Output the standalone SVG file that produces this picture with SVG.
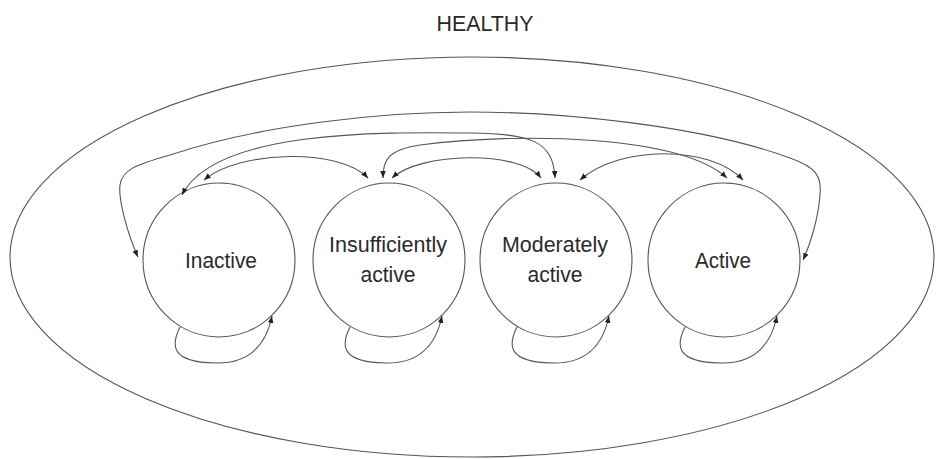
<svg xmlns="http://www.w3.org/2000/svg" width="941" height="459" viewBox="0 0 941 459">
<style>
.ln{fill:none;stroke:#555;stroke-width:1.1}
.nd{fill:#fff;stroke:#555;stroke-width:1.1}
.lb{font-family:"Liberation Sans",Arial,sans-serif;font-size:22px;fill:#2a2a2a;text-anchor:middle}
</style>
<defs>
<marker id="ah" viewBox="0 0 10 10" refX="10" refY="5" markerWidth="7" markerHeight="7" markerUnits="userSpaceOnUse" orient="auto-start-reverse">
<path d="M0,1 L10,5 L0,9 z" fill="#222"/>
</marker>
</defs>
<rect width="941" height="459" fill="#fff"/>
<text class="lb" x="485" y="31" font-size="24" textLength="97" lengthAdjust="spacingAndGlyphs">HEALTHY</text>
<g id="outer"><ellipse cx="472" cy="257" rx="462" ry="200" class="ln"/></g>
<g id="inactive"><ellipse class="nd" cx="219" cy="260" rx="76" ry="77"/><text class="lb" x="221" y="268" textLength="72" lengthAdjust="spacingAndGlyphs">Inactive</text></g>
<g id="insufficiently"><ellipse class="nd" cx="389" cy="260" rx="76" ry="77"/><text class="lb" x="388" y="252" textLength="118" lengthAdjust="spacingAndGlyphs">Insufficiently</text><text class="lb" x="388" y="282" textLength="55" lengthAdjust="spacingAndGlyphs">active</text></g>
<g id="moderately"><ellipse class="nd" cx="556" cy="260" rx="76" ry="77"/><text class="lb" x="555" y="252" textLength="106" lengthAdjust="spacingAndGlyphs">Moderately</text><text class="lb" x="555" y="282" textLength="55" lengthAdjust="spacingAndGlyphs">active</text></g>
<g id="active"><ellipse class="nd" cx="724" cy="260" rx="76" ry="77"/><text class="lb" x="723" y="268" textLength="56" lengthAdjust="spacingAndGlyphs">Active</text></g>
<g id="connectors">
<path class="ln" marker-start="url(#ah)" marker-end="url(#ah)" d="M138,257 C128,235 118,200 120,185 C122,170 135,165 170,155 C260,125 380,112 470,112 C560,112 700,125 790,158 C815,167 822,175 820,195 C818,220 810,245 803,260"/>
<path class="ln" marker-start="url(#ah)" marker-end="url(#ah)" d="M204,180 C240,150 340,148 368,178"/>
<path class="ln" marker-start="url(#ah)" marker-end="url(#ah)" d="M182,195 C215,130 380,132 470,133 C530,134 553,140 555,178"/>
<path class="ln" marker-start="url(#ah)" marker-end="url(#ah)" d="M392,178 C420,152 520,150 541,178"/>
<path class="ln" marker-start="url(#ah)" marker-end="url(#ah)" d="M383,178 C383,162 386,150 420,145 C520,132 680,135 727,178"/>
<path class="ln" marker-start="url(#ah)" marker-end="url(#ah)" d="M580,180 C620,145 710,145 743,180"/>
<path class="ln" marker-end="url(#ah)" d="M180,327 C171,345 170,362 215,363 C250,364 266,345 272,316"/>
<path class="ln" marker-end="url(#ah)" d="M350,327 C341,345 340,362 385,363 C420,364 436,345 442,316"/>
<path class="ln" marker-end="url(#ah)" d="M517,327 C508,345 507,362 552,363 C587,364 603,345 609,316"/>
<path class="ln" marker-end="url(#ah)" d="M685,327 C676,345 675,362 720,363 C755,364 771,345 777,316"/>
</g>
</svg>
